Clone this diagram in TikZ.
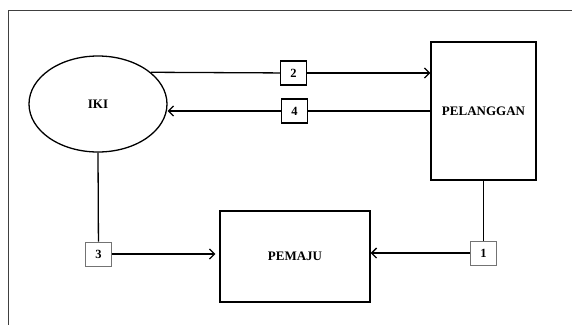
\documentclass[tikz,border=0pt]{standalone}
\usepackage{fontspec}
\setmainfont{Liberation Serif}
\usetikzlibrary{shapes.geometric,arrows.meta}
\begin{document}
\begin{tikzpicture}[x=1pt,y=-1pt,line width=1.3pt,
	every node/.style={font=\bfseries\fontsize{13}{15}\selectfont},
	unit/.style={draw, minimum width=105pt, minimum height=138pt, inner sep=0pt},
	num/.style={draw, fill=white, minimum width=26pt, minimum height=24pt, inner sep=0pt, line width=1.1pt, font=\bfseries\fontsize{12.5}{14}\selectfont},
	numlight/.style={num, draw=black!55, line width=0.8pt},
	flow/.style={-{Straight Barb[length=5pt,width=10pt]}}]
\useasboundingbox (0,0) rectangle (572,325);
%----------------------------------------------------------
	% Frame
	%------------------------------------------------------
	\coordinate (FrTL) at (8,10);
	\coordinate (FrTR) at (572,10);
	\coordinate (FrBL) at (8,325);
	\draw[black!75, line width=1pt] (FrTR) -- (FrTL) -- (FrBL);

	% Entities
	%------------------------------------------------------
	\node[draw, ellipse, minimum width=138pt, minimum height=96pt, inner sep=0pt] (iki) at (98,104) {IKI};
	\node[unit] (pel) at (483.5,111) {PELANGGAN};
	\node[unit, minimum width=150pt, minimum height=91pt] (pem) at (295,256.5) {PEMAJU};

	% Flow numbers
	%------------------------------------------------------
	\node[num] (b2) at (293.5,73) {2};
	\node[num] (b4) at (294.5,111) {4};
	\node[numlight] (b3) at (98.5,254) {3};
	\node[numlight] (b1) at (483.5,253) {1};

	% Flows
	%------------------------------------------------------
	\draw (iki.31) -- (b2);
	\draw[flow] (b2) -- (b2 -| pel.west);
	\draw (pel.west |- b4) -- (b4);
	\draw[flow] (b4) -- (b4 -| iki.east);
	\draw (iki.south) -- (b3);
	\draw[flow, shorten >=4pt] (b3) -- (b3 -| pem.west);
	\draw (pel.south) -- (b1);
	\draw[flow] (b1) -- (b1 -| pem.east);
\end{tikzpicture}
\end{document}
